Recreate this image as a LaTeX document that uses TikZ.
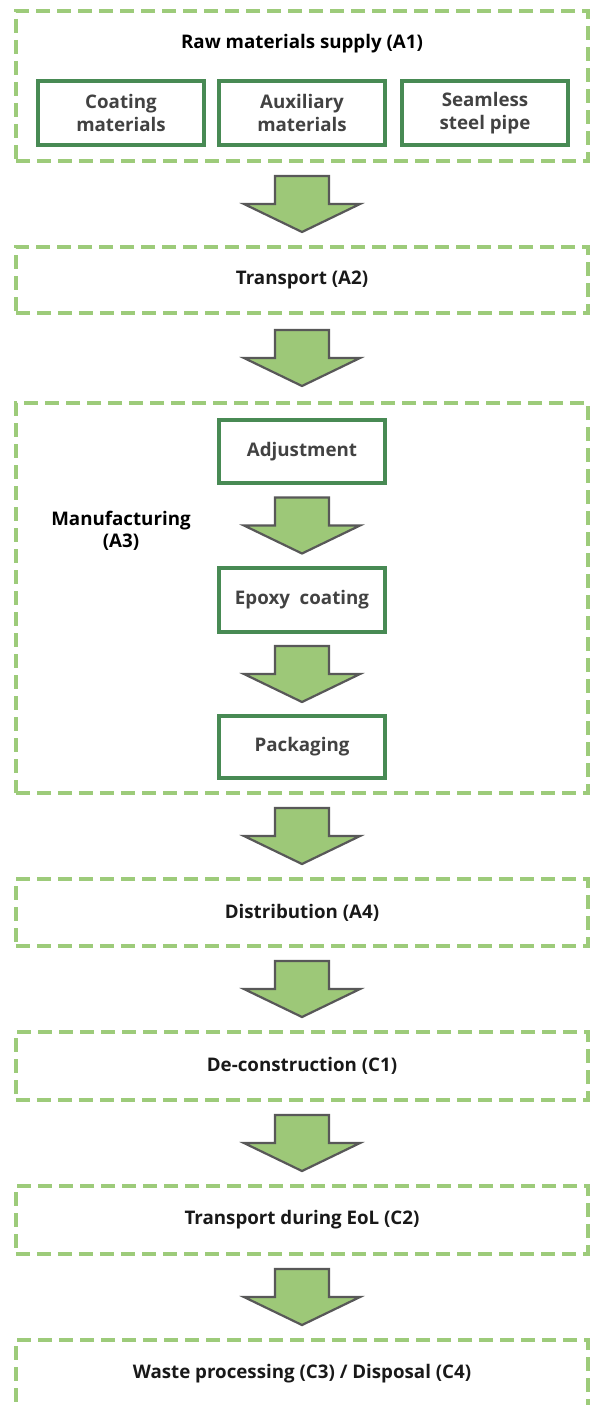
\documentclass[tikz,border=0pt]{standalone}
\usepackage{fontspec}
\setsansfont{Open Sans}
\usepackage{tikz}
\usetikzlibrary{positioning}
\usetikzlibrary{calc}

\definecolor{stagegreen}{RGB}{157,203,122}
\definecolor{subgreen}{RGB}{72,138,84}
\definecolor{arrowfill}{RGB}{157,200,120}
\definecolor{arrowline}{RGB}{88,88,88}
\definecolor{subtext}{RGB}{66,66,66}

\begin{document}
\begin{tikzpicture}[
    x=1bp, y=-1bp, % pixel units, y going down
    font=\sffamily\bfseries\fontsize{18.8}{22.5}\selectfont, % bold sans text
    stage/.style={
        draw=stagegreen, % light green border
        line width=3.5bp,
        dash pattern=on 14bp off 7bp, % dashed stage box
        minimum width=572bp,
        outer sep=0pt,
        text=black!90
    },
    subbox/.style={
        draw=subgreen, % dark green border
        line width=3.8bp,
        minimum width=166bp,
        minimum height=64bp,
        align=center,
        outer sep=0pt,
        text=subtext
    },
    flowdown/.pic={ % block arrow between two boxes
        \draw[fill=arrowfill, draw=arrowline, line width=2.2bp, line join=miter]
            (-27,-28) -- (27,-28) -- (27,0) -- (58,0) -- (0,28) -- (-58,0) -- (-27,0) -- cycle;
    },
    node distance=86bp
]
\clip (0,0) rectangle (593,1405);

% stages
\node[stage, minimum height=150bp] (a1) at (302,86) {};
\node at ([yshift=-33bp]a1.north) (a1title) {Raw materials supply (A1)};
\node[subbox, above=16bp of a1.south] (aux) {Auxiliary\\materials};
\node[subbox, left=15bp of aux] (coat) {Coating\\materials};
\node[subbox, right=17bp of aux] (seam) {Seamless\\steel pipe};

\node[stage, minimum height=66bp, below=of a1] (a2) {Transport (A2)};

\node[stage, minimum height=390bp, below=90bp of a2] (a3) {};
\node[align=center] at ([xshift=105bp, yshift=67bp]a3.west) (a3label) {Manufacturing\\(A3)};
\node[subbox, minimum height=63bp, below=17bp of a3.north] (adj) {Adjustment};
\node[subbox, below=85bp of adj] (epoxy) {Epoxy\ \ coating};
\node[subbox, minimum height=62bp, below=84bp of epoxy] (pack) {Packaging};

\node[stage, minimum height=67bp, below=of a3] (a4) {Distribution (A4)};
\node[stage, minimum height=68bp, below=of a4] (c1) {De-construction (C1)};
\node[stage, minimum height=68bp, below=of c1] (c2) {Transport during EoL (C2)};
\node[stage, minimum height=68bp, below=of c2] (c34) {Waste processing (C3) / Disposal (C4)};

% arrows
\pic at ($(a1.south)!.5!(a2.north)$) {flowdown};
\pic at ($(a2.south)!.5!(a3.north)$) {flowdown};
\pic at ($(adj.south)!.5!(epoxy.north)$) {flowdown};
\pic at ($(epoxy.south)!.5!(pack.north)$) {flowdown};
\pic at ($(a3.south)!.5!(a4.north)$) {flowdown};
\pic at ($(a4.south)!.5!(c1.north)$) {flowdown};
\pic at ($(c1.south)!.5!(c2.north)$) {flowdown};
\pic at ($(c2.south)!.5!(c34.north)$) {flowdown};
\end{tikzpicture}
\end{document}
